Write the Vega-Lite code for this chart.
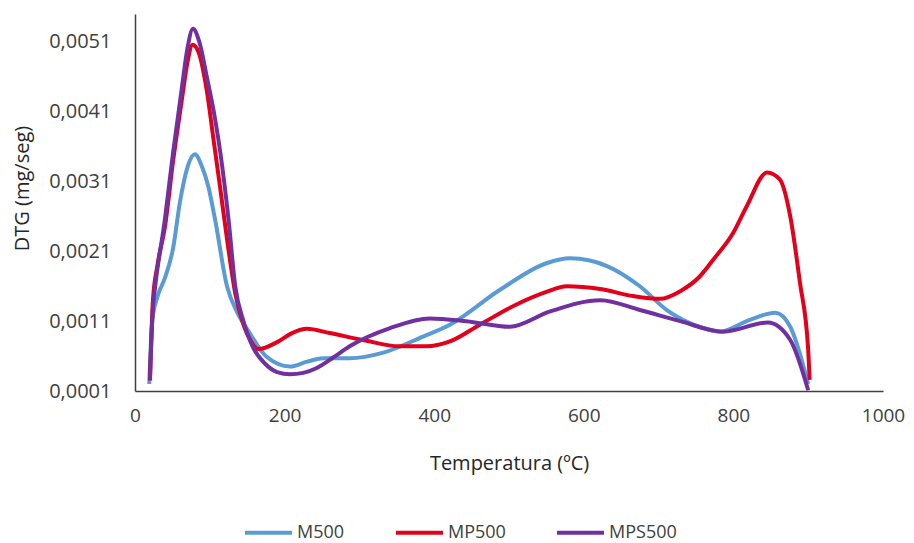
{
  "$schema": "https://vega.github.io/schema/vega-lite/v6.json",
  "width": 748,
  "height": 377,
  "autosize": "none",
  "padding": {"left": 135, "top": 14, "right": 31, "bottom": 152},
  "config": {
    "font": "Open Sans",
    "view": {"stroke": null},
    "axis": {"labelFont": "Open Sans", "titleFont": "Open Sans", "labelColor": "#404040", "titleColor": "#262626", "titleFontWeight": "normal"}
  },
  "data": {
    "values": [
      {"s": "M500", "t": 19, "v": 0.0002},
      {"s": "M500", "t": 23, "v": 0.0011},
      {"s": "M500", "t": 30, "v": 0.00145},
      {"s": "M500", "t": 40, "v": 0.00172},
      {"s": "M500", "t": 51, "v": 0.00215},
      {"s": "M500", "t": 60, "v": 0.0028},
      {"s": "M500", "t": 70, "v": 0.0033},
      {"s": "M500", "t": 80, "v": 0.00349},
      {"s": "M500", "t": 90, "v": 0.0033},
      {"s": "M500", "t": 98, "v": 0.00303},
      {"s": "M500", "t": 107, "v": 0.00256},
      {"s": "M500", "t": 123, "v": 0.0016},
      {"s": "M500", "t": 137, "v": 0.00122},
      {"s": "M500", "t": 151, "v": 0.00097},
      {"s": "M500", "t": 176, "v": 0.00059},
      {"s": "M500", "t": 207, "v": 0.00045},
      {"s": "M500", "t": 230, "v": 0.00052},
      {"s": "M500", "t": 252, "v": 0.00057},
      {"s": "M500", "t": 287, "v": 0.00057},
      {"s": "M500", "t": 332, "v": 0.00065},
      {"s": "M500", "t": 385, "v": 0.00088},
      {"s": "M500", "t": 421, "v": 0.00105},
      {"s": "M500", "t": 488, "v": 0.00155},
      {"s": "M500", "t": 550, "v": 0.00193},
      {"s": "M500", "t": 582, "v": 0.002},
      {"s": "M500", "t": 631, "v": 0.00189},
      {"s": "M500", "t": 675, "v": 0.0016},
      {"s": "M500", "t": 711, "v": 0.00126},
      {"s": "M500", "t": 755, "v": 0.00102},
      {"s": "M500", "t": 782, "v": 0.00095},
      {"s": "M500", "t": 822, "v": 0.00112},
      {"s": "M500", "t": 856, "v": 0.00122},
      {"s": "M500", "t": 876, "v": 0.00102},
      {"s": "M500", "t": 900, "v": 0.0002},

      {"s": "MP500", "t": 20, "v": 0.00025},
      {"s": "MP500", "t": 24, "v": 0.0014},
      {"s": "MP500", "t": 30, "v": 0.0019},
      {"s": "MP500", "t": 40, "v": 0.00245},
      {"s": "MP500", "t": 51, "v": 0.0034},
      {"s": "MP500", "t": 63, "v": 0.0043},
      {"s": "MP500", "t": 70, "v": 0.0048},
      {"s": "MP500", "t": 77, "v": 0.00506},
      {"s": "MP500", "t": 85, "v": 0.00495},
      {"s": "MP500", "t": 96, "v": 0.0044},
      {"s": "MP500", "t": 105, "v": 0.0037},
      {"s": "MP500", "t": 114, "v": 0.003},
      {"s": "MP500", "t": 124, "v": 0.0022},
      {"s": "MP500", "t": 134, "v": 0.0015},
      {"s": "MP500", "t": 145, "v": 0.00105},
      {"s": "MP500", "t": 154, "v": 0.00083},
      {"s": "MP500", "t": 165, "v": 0.0007},
      {"s": "MP500", "t": 190, "v": 0.0008},
      {"s": "MP500", "t": 210, "v": 0.00093},
      {"s": "MP500", "t": 230, "v": 0.00099},
      {"s": "MP500", "t": 260, "v": 0.00093},
      {"s": "MP500", "t": 305, "v": 0.00083},
      {"s": "MP500", "t": 354, "v": 0.00074},
      {"s": "MP500", "t": 390, "v": 0.00074},
      {"s": "MP500", "t": 421, "v": 0.00081},
      {"s": "MP500", "t": 461, "v": 0.00105},
      {"s": "MP500", "t": 510, "v": 0.00134},
      {"s": "MP500", "t": 550, "v": 0.00152},
      {"s": "MP500", "t": 577, "v": 0.0016},
      {"s": "MP500", "t": 622, "v": 0.00156},
      {"s": "MP500", "t": 666, "v": 0.00146},
      {"s": "MP500", "t": 702, "v": 0.00142},
      {"s": "MP500", "t": 729, "v": 0.00153},
      {"s": "MP500", "t": 755, "v": 0.00174},
      {"s": "MP500", "t": 773, "v": 0.00198},
      {"s": "MP500", "t": 800, "v": 0.00237},
      {"s": "MP500", "t": 818, "v": 0.00275},
      {"s": "MP500", "t": 845, "v": 0.00323},
      {"s": "MP500", "t": 862, "v": 0.00313},
      {"s": "MP500", "t": 876, "v": 0.0026},
      {"s": "MP500", "t": 889, "v": 0.00165},
      {"s": "MP500", "t": 900, "v": 0.00069},
      {"s": "MP500", "t": 902, "v": 0.00026},

      {"s": "MPS500", "t": 20, "v": 0.00027},
      {"s": "MPS500", "t": 24, "v": 0.0013},
      {"s": "MPS500", "t": 27, "v": 0.0016},
      {"s": "MPS500", "t": 40, "v": 0.00256},
      {"s": "MPS500", "t": 51, "v": 0.00352},
      {"s": "MPS500", "t": 63, "v": 0.00447},
      {"s": "MPS500", "t": 70, "v": 0.005},
      {"s": "MPS500", "t": 77.5, "v": 0.00529},
      {"s": "MPS500", "t": 86, "v": 0.0051},
      {"s": "MPS500", "t": 96, "v": 0.0046},
      {"s": "MPS500", "t": 107, "v": 0.004},
      {"s": "MPS500", "t": 114, "v": 0.00352},
      {"s": "MPS500", "t": 125, "v": 0.00256},
      {"s": "MPS500", "t": 134, "v": 0.0016},
      {"s": "MPS500", "t": 145, "v": 0.0011},
      {"s": "MPS500", "t": 158, "v": 0.00072},
      {"s": "MPS500", "t": 174, "v": 0.00049},
      {"s": "MPS500", "t": 190, "v": 0.00037},
      {"s": "MPS500", "t": 207, "v": 0.00034},
      {"s": "MPS500", "t": 225, "v": 0.00036},
      {"s": "MPS500", "t": 243, "v": 0.00043},
      {"s": "MPS500", "t": 265, "v": 0.00058},
      {"s": "MPS500", "t": 287, "v": 0.00074},
      {"s": "MPS500", "t": 341, "v": 0.001},
      {"s": "MPS500", "t": 394, "v": 0.00114},
      {"s": "MPS500", "t": 443, "v": 0.0011},
      {"s": "MPS500", "t": 501, "v": 0.00102},
      {"s": "MPS500", "t": 555, "v": 0.00124},
      {"s": "MPS500", "t": 622, "v": 0.0014},
      {"s": "MPS500", "t": 675, "v": 0.00126},
      {"s": "MPS500", "t": 729, "v": 0.0011},
      {"s": "MPS500", "t": 786, "v": 0.00095},
      {"s": "MPS500", "t": 846, "v": 0.00108},
      {"s": "MPS500", "t": 876, "v": 0.00083},
      {"s": "MPS500", "t": 900, "v": 0.00011}
    ]
  },
  "mark": {"type": "line", "interpolate": "monotone", "strokeWidth": 4, "clip": false},
  "encoding": {
    "x": {
      "field": "t", "type": "quantitative",
      "scale": {"domain": [0, 1000], "nice": false},
      "axis": {
        "values": [0, 200, 400, 600, 800, 1000], "format": "d",
        "grid": false, "ticks": false, "domainColor": "#404040", "domainWidth": 1.5,
        "labelFontSize": 19, "labelPadding": 15, "labelFlush": false,
        "title": "Temperatura (ºC)", "titleFontSize": 20, "titleBaseline": "middle", "titleY": 72
      }
    },
    "y": {
      "field": "v", "type": "quantitative",
      "scale": {"domain": [0.0001, 0.0055], "nice": false, "zero": false},
      "axis": {
        "values": [0.0001, 0.0011, 0.0021, 0.0031, 0.0041, 0.0051],
        "labelExpr": "replace(format(datum.value, '.4f'), '.', ',')",
        "grid": false, "ticks": false, "domainColor": "#404040", "domainWidth": 1.5,
        "labelFontSize": 20, "labelPadding": 24,
        "title": "DTG (mg/seg)", "titleFontSize": 20, "titleBaseline": "middle", "titleX": -113, "titleY": 174
      }
    },
    "color": {
      "field": "s", "type": "nominal",
      "scale": {"domain": ["M500", "MP500", "MPS500"], "range": ["#5B9BD5", "#E3001B", "#7030A0"]},
      "legend": {
        "title": null, "orient": "none", "direction": "horizontal",
        "legendX": 108, "legendY": 493,
        "symbolType": "stroke", "symbolSize": 2209, "symbolStrokeWidth": 4,
        "labelFontSize": 18, "labelFont": "Open Sans", "labelColor": "#404040", "labelOffset": 3,
        "columnPadding": 43
      }
    }
  }
}
